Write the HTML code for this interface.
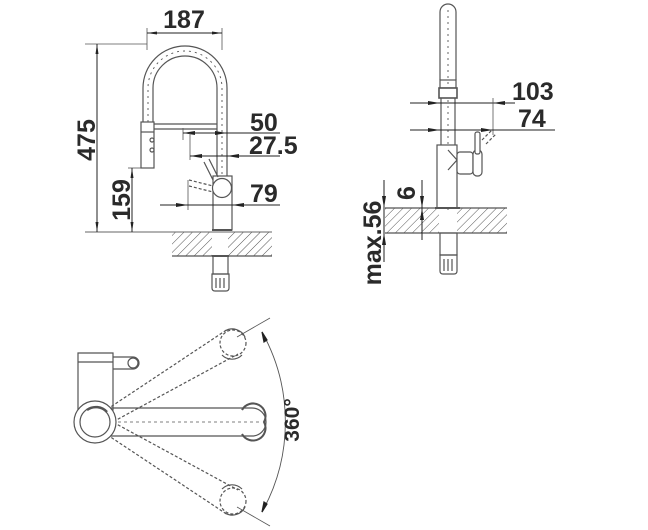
<!DOCTYPE html>
<html><head><meta charset="utf-8"><style>
html,body{margin:0;padding:0;background:#fff;}
svg{display:block;}
text{font-family:"Liberation Sans",Arial,sans-serif;font-weight:bold;fill:#2a2a2a;font-size:25px;}
</style></head><body>
<svg width="648" height="530" viewBox="0 0 648 530" xmlns="http://www.w3.org/2000/svg">
<defs>
<pattern id="h" width="6" height="6" patternUnits="userSpaceOnUse" patternTransform="rotate(45)">
<line x1="0" y1="0" x2="0" y2="6" stroke="#555" stroke-width="1"/>
</pattern>
<marker id="a" markerWidth="10" markerHeight="6" refX="10" refY="3" orient="auto" markerUnits="userSpaceOnUse">
<path d="M0,1.5 L10,3 L0,4.5 Z" fill="#222"/></marker>
</defs>
<g fill="none" stroke="#555" stroke-width="1.2">
<rect x="172" y="232" width="100" height="24" fill="url(#h)" stroke="none"/>
<line x1="172" y1="256" x2="272" y2="256"/>
<rect x="212" y="232" width="16" height="24" fill="#fff" stroke="none"/>
<line x1="85" y1="232" x2="272" y2="232" stroke="#666" stroke-width="0.9"/>
<path d="M143,122 L143,88 A42,42 0 0 1 227,88 L227,125"/>
<path d="M153,122 L153,88 A32,32 0 0 1 217,88 L217,125"/>
<path d="M148,122 L148,88 A37,37 0 0 1 222,88 L222,175" stroke-dasharray="2,4" stroke-width="0.9"/>
<rect x="141" y="122" width="13" height="46" fill="#fff"/>
<line x1="141" y1="132" x2="154" y2="132"/>
<circle cx="152" cy="140" r="2"/><circle cx="152" cy="150" r="2"/>
<line x1="154" y1="124" x2="217" y2="124"/><line x1="154" y1="129" x2="217" y2="129"/>
<line x1="217" y1="125" x2="217" y2="176"/><line x1="227" y1="125" x2="227" y2="176"/>
<rect x="213" y="176" width="19" height="54" fill="#fff"/>
<line x1="212" y1="230" x2="232" y2="230" stroke-width="2"/>
<circle cx="222" cy="188" r="9.5" fill="#fff"/>
<path d="M204,162 L213,180 M209,159 L218,177"/>
<path d="M189,180 L213,186 M189,186 L213,192" stroke-dasharray="3,2"/>
<line x1="188" y1="180" x2="188" y2="210" stroke-width="0.8"/>
<rect x="213" y="256" width="15" height="18"/>
<line x1="212" y1="256" x2="229" y2="256" stroke-width="2"/>
<path d="M212,274 h17 v14 q0,3 -3,3 h-11 q-3,0 -3,-3 z"/>
<path d="M216,278 v10 M220,278 v10 M224,278 v10"/>
<line x1="147" y1="28" x2="147" y2="50" stroke-width="0.8"/>
<line x1="222" y1="28" x2="222" y2="50" stroke-width="0.8"/>
<line x1="184" y1="33" x2="147" y2="33" marker-end="url(#a)" stroke="#222" stroke-width="1"/>
<line x1="184" y1="33" x2="222" y2="33" marker-end="url(#a)" stroke="#222" stroke-width="1"/>
<line x1="85" y1="44" x2="147" y2="44" stroke-width="0.8"/>
<line x1="97" y1="140" x2="97" y2="44" marker-end="url(#a)" stroke="#222" stroke-width="1"/>
<line x1="97" y1="140" x2="97" y2="232" marker-end="url(#a)" stroke="#222" stroke-width="1"/>
<line x1="128" y1="168" x2="141" y2="168" stroke-width="0.8"/>
<line x1="132" y1="200" x2="132" y2="168" marker-end="url(#a)" stroke="#222" stroke-width="1"/>
<line x1="132" y1="200" x2="132" y2="232" marker-end="url(#a)" stroke="#222" stroke-width="1"/>
<line x1="183" y1="128" x2="183" y2="140" stroke-width="0.8"/>
<line x1="183" y1="133" x2="280" y2="133" stroke="#222" stroke-width="1"/>
<path d="M183,133 l12,-2 v4z M227,133 l-12,-2 v4z" fill="#222" stroke="none"/>
<line x1="190" y1="133" x2="190" y2="160" stroke-width="0.8"/>
<line x1="190" y1="156" x2="280" y2="156" stroke="#222" stroke-width="1"/>
<path d="M190,156 l12,-2 v4z M227,156 l12,-2 v4z" fill="#222" stroke="none"/>
<line x1="160" y1="205" x2="280" y2="205" stroke="#222" stroke-width="1"/>
<path d="M188,205 l-12,-2 v4z M232,205 l12,-2 v4z" fill="#222" stroke="none"/>

<rect x="385" y="208" width="122" height="25" fill="url(#h)" stroke="none"/>
<rect x="439" y="208" width="18" height="25" fill="#fff" stroke="none"/>
<line x1="385" y1="208" x2="507" y2="208"/><line x1="385" y1="233" x2="507" y2="233"/>
<path d="M440,80 L440,12 A8,8 0 0 1 456,12 L456,80"/>
<line x1="448" y1="10" x2="448" y2="210" stroke-dasharray="2,4" stroke-width="0.9"/>
<rect x="440" y="80" width="16" height="8"/>
<rect x="439" y="88" width="18" height="10" fill="#fff" stroke-width="1.6"/>
<line x1="441" y1="98" x2="441" y2="145"/><line x1="455" y1="98" x2="455" y2="145"/>
<rect x="437" y="145" width="20" height="63" fill="#fff"/>
<path d="M448,150 L457,160 L448,170"/>
<rect x="457" y="152" width="16" height="22" rx="3" fill="#fff"/>
<rect x="473" y="150" width="9" height="26" rx="4" fill="#fff"/>
<rect x="475" y="132" width="5" height="22" rx="2" fill="#fff"/>
<path d="M482,140 L492,130 M486,144 L496,134" stroke-dasharray="3,2"/>
<line x1="435" y1="208" x2="460" y2="208" stroke-width="2"/>
<rect x="440" y="233" width="17" height="22"/>
<path d="M440,255 h17 v16 q0,3 -3,3 h-11 q-3,0 -3,-3 z"/>
<path d="M444,259 v12 M448,259 v12 M452,259 v12"/>
<line x1="410" y1="103" x2="515" y2="103" stroke="#222" stroke-width="1"/>
<path d="M440,103 l-12,-2 v4z M493,103 l12,-2 v4z" fill="#222" stroke="none"/>
<line x1="493" y1="98" x2="493" y2="135" stroke-width="0.8"/>
<line x1="410" y1="130" x2="555" y2="130" stroke="#222" stroke-width="1"/>
<path d="M440,130 l-12,-2 v4z M493,130 l-12,-2 v4z" fill="#222" stroke="none"/>
<line x1="422" y1="180" x2="422" y2="240" stroke="#222" stroke-width="1"/>
<path d="M422,208 l-2,-12 h4z M422,208 l-2,12 h4z" fill="#222" stroke="none"/>
<line x1="384" y1="180" x2="384" y2="262" stroke="#222" stroke-width="1"/>
<path d="M384,208 l-2,-12 h4z M384,233 l-2,12 h4z" fill="#222" stroke="none"/>

<path d="M78,353 h35 v57 h-35 z" fill="#fff"/>
<line x1="78" y1="362" x2="113" y2="362"/>
<path d="M113,357 h20 a6,6 0 0 1 0,12 h-20"/>
<circle cx="133" cy="363" r="5"/>
<path d="M103,412 L228,329 M109,424 L238,354" stroke-dasharray="3,2"/>
<path d="M103,432 L228,515 M109,420 L238,490" stroke-dasharray="3,2"/>
<circle cx="233" cy="343" r="13" stroke-dasharray="3,2"/>
<path d="M225,331 a14,14 0 0 1 20,6 M222,355 a14,14 0 0 0 20,0"/>
<circle cx="233" cy="501" r="13" stroke-dasharray="3,2"/>
<path d="M245,507 a14,14 0 0 1 -20,6 M222,489 a14,14 0 0 1 20,0"/>
<path d="M105,408 H252 A14,14 0 0 1 252,436 H105"/>
<path d="M242,410 a12,12 0 0 1 22,12 a12,12 0 0 1 -22,12" stroke-width="2"/>
<line x1="100" y1="422" x2="260" y2="422" stroke-dasharray="3,3" stroke-width="0.8"/>
<circle cx="95" cy="422" r="21" fill="#fff"/>
<circle cx="95" cy="422" r="15"/>
<path d="M107,412 a15,15 0 0 0 -20,-2" stroke-width="2.5"/>
<path d="M237,337 L270,318 M237,507 L270,526" stroke-width="0.8"/>
<path d="M262,332 A185,185 0 0 1 262,512" stroke-width="0.9"/>
<path d="M262,332 l2,10 l3,-2z M262,512 l2,-10 l3,2z" fill="#222" stroke="#222"/>
</g>
<g>
<text x="184" y="28" text-anchor="middle">187</text>
<text transform="translate(95,140) rotate(-90)" text-anchor="middle">475</text>
<text transform="translate(130,200) rotate(-90)" text-anchor="middle">159</text>
<text x="250" y="131">50</text>
<text x="249" y="154">27.5</text>
<text x="250" y="202">79</text>
<text x="512" y="100">103</text>
<text x="518" y="127">74</text>
<text transform="translate(415,193) rotate(-90)" text-anchor="middle">6</text>
<text transform="translate(381,243) rotate(-90)" text-anchor="middle">max.56</text>
<text transform="translate(299,420) rotate(-90)" text-anchor="middle" style="font-size:21px">360°</text>
</g>
</svg>
</body></html>
